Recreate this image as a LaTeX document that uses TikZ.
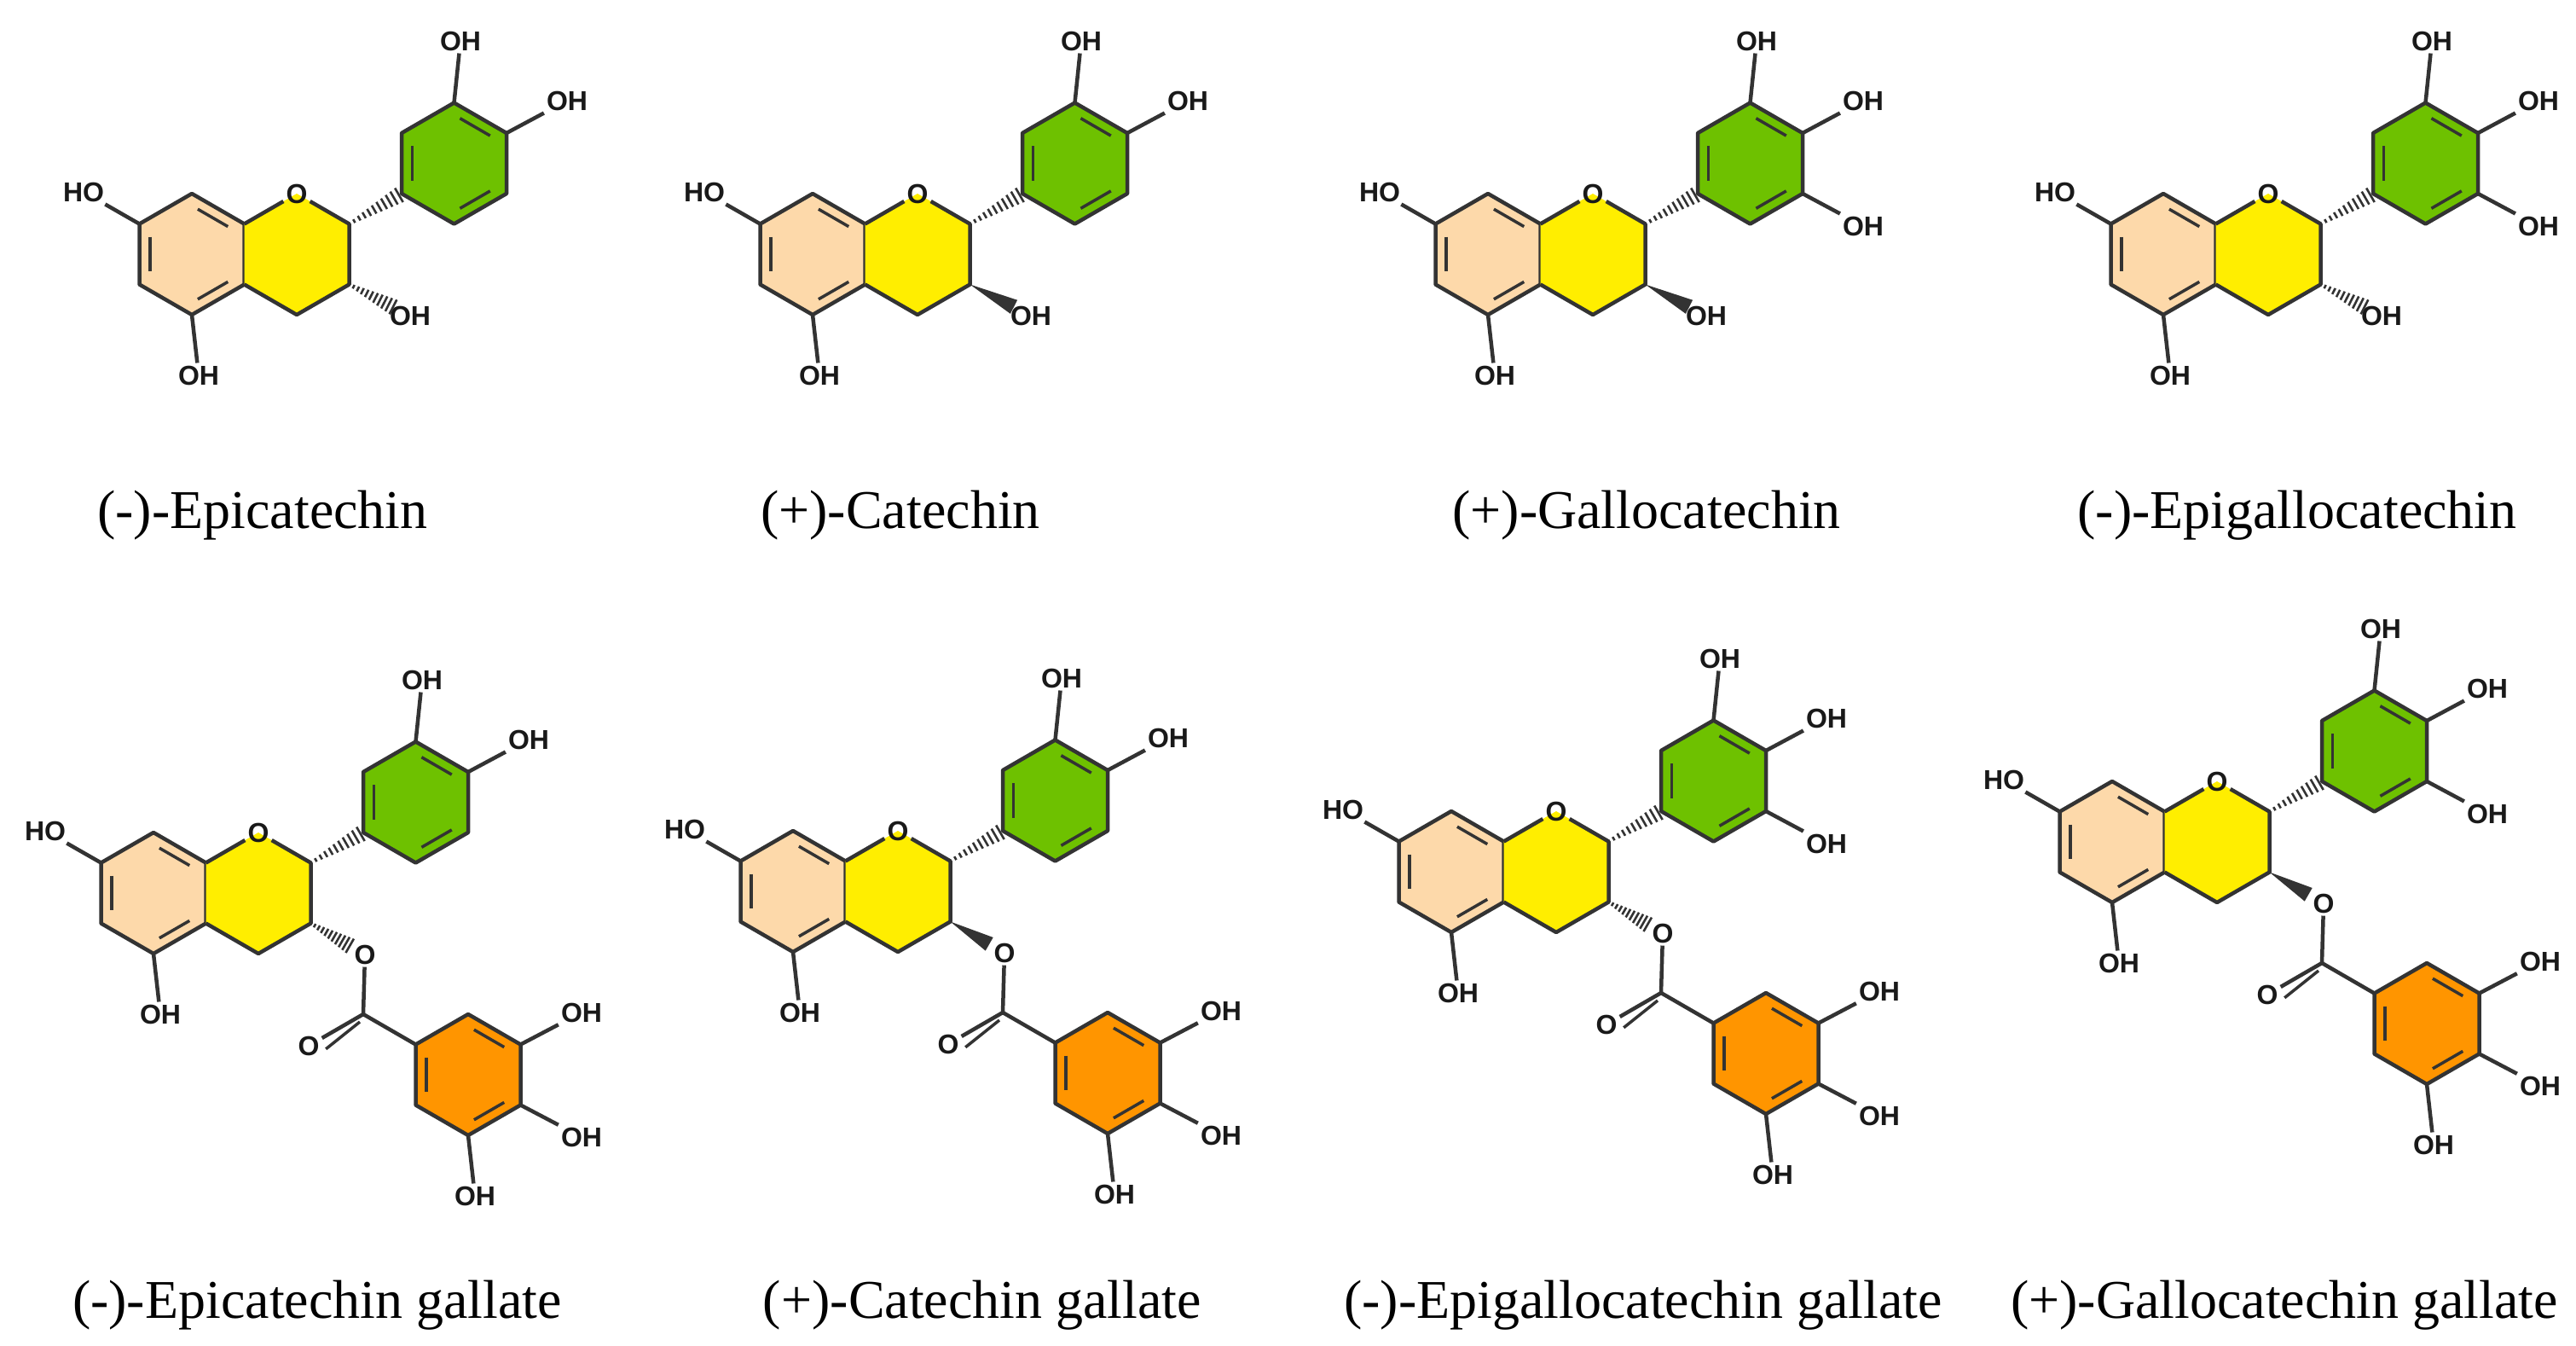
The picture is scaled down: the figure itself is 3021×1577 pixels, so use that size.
\documentclass[tikz,border=0pt]{standalone}
\usepackage{fontspec}
\setmainfont{Liberation Serif}
\setsansfont{Liberation Sans}
\usetikzlibrary{calc}
\definecolor{peach}{HTML}{FDD9AA}
\definecolor{yellowc}{HTML}{FFEE00}
\definecolor{greenc}{HTML}{6EC100}
\definecolor{orangec}{HTML}{FF9500}
\definecolor{bondc}{HTML}{333333}
\tikzset{
  bond/.style={draw=bondc,line width=4.5pt,line join=round},
  atom/.style={font=\sffamily\bfseries\fontsize{32}{36}\selectfont,inner sep=3pt,text=black!90},
  title/.style={font=\fontsize{64}{76}\selectfont,inner sep=0pt}
}
\newcommand\drawring[3]{%
  \coordinate (#1t) at ($(#2)+(0,-71)$);
  \coordinate (#1ur) at ($(#2)+(61.5,-35.5)$);
  \coordinate (#1lr) at ($(#2)+(61.5,35.5)$);
  \coordinate (#1b) at ($(#2)+(0,71)$);
  \coordinate (#1ll) at ($(#2)+(-61.5,35.5)$);
  \coordinate (#1ul) at ($(#2)+(-61.5,-35.5)$);
  \filldraw[bond,fill=#3] (#1t)--(#1ur)--(#1lr)--(#1b)--(#1ll)--(#1ul)--cycle;
  \draw[bond,line width=3.5pt,shorten <=8pt,shorten >=8pt] ($(#2)!0.8!(#1t)$)--($(#2)!0.8!(#1ur)$);
  \draw[bond,line width=3.5pt,shorten <=8pt,shorten >=8pt] ($(#2)!0.8!(#1ul)$)--($(#2)!0.8!(#1ll)$);
  \draw[bond,line width=3.5pt,shorten <=8pt,shorten >=8pt] ($(#2)!0.8!(#1b)$)--($(#2)!0.8!(#1lr)$);
}
\newcommand\hashb[3]{% from #1 to #2 with #3 as end fraction
  \foreach \i in {1,...,10}{
    \pgfmathsetmacro\hw{1.5+\i*0.8}
    \coordinate (hp) at ($(#1)!{\i*#3/10}!(#2)$);
    \draw[draw=bondc,line width=2.6pt] ($(hp)!\hw pt!90:(#2)$) -- ($(hp)!\hw pt!-90:(#2)$);
  }
}
\newcommand\wedgeb[3]{%
  \coordinate (we) at ($(#1)!#3!(#2)$);
  \fill[bondc] (#1) -- ($(we)!9pt!90:(#1)$) -- ($(we)!9pt!-90:(#1)$) -- cycle;
}
% #1 prefix, #2 x, #3 y, #4 gallo, #5 stereo (0 hash,1 wedge), #6 gallate
\newcommand\mol[6]{%
\begin{scope}[shift={(#2,#3)}]
  \coordinate (#1A) at (0,0);
  \coordinate (#1B) at (307.5,-106.5);
  \coordinate (#1O1) at (123,-71);
  \coordinate (#1c2) at (184.5,-35.5);
  \coordinate (#1c3) at (184.5,35.5);
  \coordinate (#1c4) at (123,71);
  \drawring{#1a}{#1A}{peach}
  \fill[yellowc] (#1aur) -- (#1O1) -- (#1c2) -- (#1c3) -- (#1c4) -- (#1alr) -- cycle;
  \node[atom] (#1Or) at (#1O1) {O};
  \draw[bond] (#1aur)--(#1Or)--(#1c2)--(#1c3)--(#1c4)--(#1alr);
  \drawring{#1b}{#1B}{greenc}
  \hashb{#1c2}{#1bll}{0.95}
  \node[atom] (#1ho7) at (-127,-73) {HO};
  \draw[bond] (#1aul) -- (#1ho7);
  \node[atom] (#1oh5) at (8,142) {OH};
  \draw[bond] (#1ab) -- (#1oh5);
  \node[atom] (#1oh3p) at (315,-250) {OH};
  \draw[bond] (#1bt) -- (#1oh3p);
  \node[atom] (#1oh4p) at (440,-180) {OH};
  \draw[bond] (#1bur) -- (#1oh4p);
  \ifnum#4=1
    \node[atom] (#1oh5p) at (440,-33) {OH};
    \draw[bond] (#1blr) -- (#1oh5p);
  \fi
  \ifnum#6=1
    \node[atom] (#1X3) at (248,72) {O};
  \else
    \node[atom] (#1X3) at (256,72) {OH};
  \fi
  \ifnum#5=0
    \hashb{#1c3}{#1X3}{0.72}
  \else
    \wedgeb{#1c3}{#1X3}{0.72}
  \fi
  \ifnum#6=1
    \coordinate (#1cc) at (246,142);
    \coordinate (#1G) at (369,213);
    \node[atom] (#1cO) at (182,179) {O};
    \draw[bond] (#1X3) -- (#1cc);
    \draw[bond] (#1cc) -- (#1cO);
    \draw[bond,line width=3.5pt,shorten >=2pt] ($(#1cc)+(-4,9)$) -- ($(#1cO.east)+(3,5)$);
    \drawring{#1g}{#1G}{orangec}
    \draw[bond] (#1cc) -- (#1gul);
    \node[atom] (#1g1) at (502,140) {OH};
    \draw[bond] (#1gur) -- (#1g1);
    \node[atom] (#1g2) at (502,286) {OH};
    \draw[bond] (#1glr) -- (#1g2);
    \node[atom] (#1g3) at (377,355) {OH};
    \draw[bond] (#1gb) -- (#1g3);
  \fi
\end{scope}}
\begin{document}
\begin{tikzpicture}[x=1pt,y=-1pt]
\useasboundingbox[fill=white] (0,0) rectangle (3021,1577);
\mol{m1}{225}{298}{0}{0}{0}
\mol{m2}{953}{298}{0}{1}{0}
\mol{m3}{1745}{298}{1}{1}{0}
\mol{m4}{2537}{298}{1}{0}{0}
\mol{m5}{180}{1047}{0}{0}{1}
\mol{m6}{930}{1045}{0}{1}{1}
\mol{m7}{1702}{1022}{1}{0}{1}
\mol{m8}{2477}{987}{1}{1}{1}
\node[title] (t1) at (308,604) {(-)-Epicatechin};
\node[title] (t2) at (1056,604) {(+)-Catechin};
\node[title] (t3) at (1931,604) {(+)-Gallocatechin};
\node[title] (t4) at (2694,604) {(-)-Epigallocatechin};
\node[title] (t5) at (372,1530) {(-)-Epicatechin gallate};
\node[title] (t6) at (1152,1530) {(+)-Catechin gallate};
\node[title] (t7) at (1927,1530) {(-)-Epigallocatechin gallate};
\node[title] (t8) at (2679,1530) {(+)-Gallocatechin gallate};
\end{tikzpicture}
\end{document}
